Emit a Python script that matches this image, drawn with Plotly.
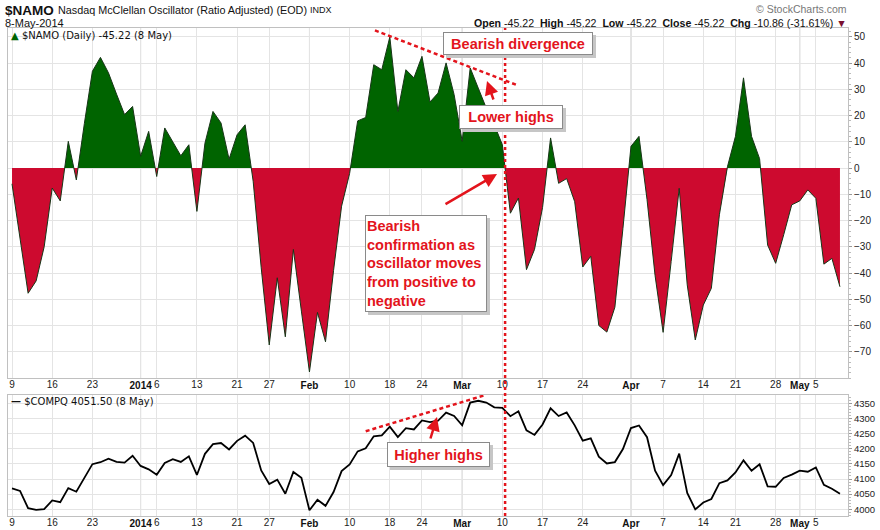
import plotly.graph_objects as go

# ---------------- data ----------------
trading_days = {
    "2013-12": [9, 10, 11, 12, 13, 16, 17, 18, 19, 20, 23, 24, 26, 27, 30, 31],
    "2014-01": [2, 3, 6, 7, 8, 9, 10, 13, 14, 15, 16, 17, 21, 22, 23, 24, 27, 28, 29, 30, 31],
    "2014-02": [3, 4, 5, 6, 7, 10, 11, 12, 13, 14, 18, 19, 20, 21, 24, 25, 26, 27, 28],
    "2014-03": [3, 4, 5, 6, 7, 10, 11, 12, 13, 14, 17, 18, 19, 20, 21, 24, 25, 26, 27, 28, 31],
    "2014-04": [1, 2, 3, 4, 7, 8, 9, 10, 11, 14, 15, 16, 17, 21, 22, 23, 24, 25, 28, 29, 30],
    "2014-05": [1, 2, 5, 6, 7, 8],
}
dates = [f"{m}-{d:02d}" for m, days in trading_days.items() for d in days]

namo = [
    -6, -26, -47.7, -43, -30, -7.6, -12.5, 10.2, -4.5, 17,
    36.9, 42.2, 36.3, 28.2, 20.4, 23.5, 4.5, 14, -3.2, 15.3,
    10.2, 4.7, 8.9, -16.5, 9.5, 21.6, 17.2, 3.4, 12.7, 16.5,
    -5, -38, -67.4, -41.8, -64.3, -31, -54.5, -77.7, -55, -66.2,
    -39, -14.5, -2, 18, 19.3, 39.4, 37.5, 50, 21.6, 37.5,
    34.4, 42.6, 25.2, 28.6, 40.1, 28, 10.2, 38.2, 30.5, 22.9,
    16.5, 8.9, -17.2, -11.4, -38.7, -31, -15, 11.5, -5.8, -4,
    -12.8, -37.7, -33.6, -60, -62.5, -53, -23, 8.3, 12.1, -12,
    -41, -62.6, -35.6, -7.7, -44.5, -65.5, -52.2, -45.8, -17.8, 0.5,
    12.1, 34.4, 12.1, 3.6, -29.3, -36.3, -25.4, -14, -12.5, -8.3,
    -11.5, -36.6, -34.4, -45.22,
]

compq = [
    4068.75, 4060.49, 4003.81, 3998.40, 4000.98, 4029.52, 4023.68, 4070.06, 4058.13, 4104.74,
    4148.90, 4155.42, 4167.18, 4156.59, 4154.20, 4176.59,
    4143.07, 4131.91, 4113.68, 4153.18, 4165.61, 4156.19, 4174.67, 4113.30, 4183.02, 4214.88,
    4218.69, 4197.58, 4225.76, 4243.00, 4218.88, 4128.17, 4083.61, 4097.96, 4051.43, 4123.13, 4103.88,
    3996.96, 4031.52, 4011.55, 4057.12, 4125.86, 4148.17, 4191.05, 4201.29, 4240.67, 4244.03,
    4272.78, 4237.95, 4267.55, 4263.41, 4292.97, 4287.59, 4292.06, 4318.93, 4308.12,
    4277.30, 4351.97, 4357.97, 4352.13, 4336.22, 4334.45, 4307.19, 4323.33, 4260.42, 4245.40,
    4279.95, 4333.31, 4307.60, 4319.29, 4276.79, 4226.39, 4234.27, 4173.58, 4151.23, 4155.76, 4198.99,
    4268.04, 4276.46, 4237.74, 4127.73, 4079.75, 4112.99, 4183.90, 4054.11, 3999.73, 4022.69,
    4034.16, 4086.23, 4095.52, 4121.55, 4161.46, 4126.97, 4148.34, 4075.56, 4074.40, 4103.54, 4114.56,
    4127.45, 4123.90, 4138.06, 4080.76, 4067.67, 4051.50,
]

week_dates = ["2013-12-09", "2013-12-16", "2013-12-23", "2014-01-06", "2014-01-13",
              "2014-01-21", "2014-01-27", "2014-02-10", "2014-02-18", "2014-02-24",
              "2014-03-10", "2014-03-17", "2014-03-24", "2014-04-07",
              "2014-04-14", "2014-04-21", "2014-04-28", "2014-05-05"]
week_labels = ["9", "16", "23", "6", "13", "21", "27", "10", "18", "24",
               "10", "17", "24", "7", "14", "21", "28", "5"]
month_dates = ["2014-01-02", "2014-02-03", "2014-03-03", "2014-04-01", "2014-05-01"]
month_labels = ["2014", "Feb", "Mar", "Apr", "May"]

namo_ticks = [50, 40, 30, 20, 10, 0, -10, -20, -30, -40, -50, -60, -70]
compq_ticks = [4000, 4050, 4100, 4150, 4200, 4250, 4300, 4350]

# ---------------- styling ----------------
GREEN = "#006400"
RED = "#cd0a2f"
ANN_RED = "#e3141c"
GRID = "#e4e4e4"
MONTH_GRID = "#c4c4c4"
BORDER = "#c0c0c0"
SANS = "Liberation Sans, Arial, sans-serif"
VERD = "DejaVu Sans, Verdana, sans-serif"

x = list(range(len(dates)))
week_pos = [dates.index(d) for d in week_dates]
month_pos = [dates.index(d) for d in month_dates]


def with_crossings(xv, yv):
    xa, ya = [xv[0]], [yv[0]]
    for i in range(1, len(yv)):
        y0, y1 = yv[i - 1], yv[i]
        if y0 * y1 < 0:
            t = y0 / (y0 - y1)
            xa.append(xv[i - 1] + t * (xv[i] - xv[i - 1]))
            ya.append(0.0)
        xa.append(xv[i])
        ya.append(yv[i])
    return xa, ya


xa, ya = with_crossings(x, namo)
pos = [max(v, 0) for v in ya]
neg = [min(v, 0) for v in ya]

fig = go.Figure()
fig.add_trace(go.Scatter(x=xa, y=pos, mode="lines", fill="tozeroy", fillcolor=GREEN,
                         line=dict(width=0, color=GREEN), hoverinfo="skip", xaxis="x", yaxis="y"))
fig.add_trace(go.Scatter(x=xa, y=neg, mode="lines", fill="tozeroy", fillcolor=RED,
                         line=dict(width=0, color=RED), hoverinfo="skip", xaxis="x", yaxis="y"))
fig.add_trace(go.Scatter(x=x, y=namo, mode="lines", line=dict(width=1, color="#173517"),
                         xaxis="x", yaxis="y"))
fig.add_trace(go.Scatter(x=x, y=compq, mode="lines", line=dict(width=1.8, color="#000000"),
                         xaxis="x2", yaxis="y2"))
# carrier traces for the bold month-label axes (draw nothing)
fig.add_trace(go.Scatter(x=[x[0]], y=[namo[0]], mode="lines", opacity=0, hoverinfo="skip",
                         xaxis="x3", yaxis="y"))
fig.add_trace(go.Scatter(x=[x[0]], y=[compq[0]], mode="lines", opacity=0, hoverinfo="skip",
                         xaxis="x4", yaxis="y2"))

# ---------------- axes ----------------
L, R, T, B = 8, 32, 28, 14
W, H = 880, 530
PW, PH = W - L - R, H - T - B
top_bottom_px = 378
bot_top_px = 395
XR = [-0.5, 104]

xweek = dict(range=XR, tickmode="array", tickvals=week_pos + month_pos,
             ticktext=week_labels + [""] * len(month_pos),
             showgrid=True, gridcolor=GRID, gridwidth=1, zeroline=False,
             showline=True, linecolor=BORDER, mirror=True, ticks="",
             ticklabelstandoff=-3,
             tickfont=dict(family=SANS, size=10, color="#222"))
xmonth = dict(range=XR, tickmode="array", tickvals=month_pos, ticktext=month_labels,
              showgrid=False, zeroline=False, showline=False, ticks="",
              ticklabelstandoff=0, side="bottom",
              tickfont=dict(family=SANS, size=10, color="#111", weight="bold"))

fig.update_layout(
    width=W, height=H,
    margin=dict(l=L, r=R, t=T, b=B, autoexpand=False),
    paper_bgcolor="white", plot_bgcolor="white",
    showlegend=False,
    xaxis=dict(domain=[0, 1], anchor="y", **xweek),
    xaxis2=dict(domain=[0, 1], anchor="y2", **xweek),
    xaxis3=dict(overlaying="x", anchor="y", **xmonth),
    xaxis4=dict(overlaying="x2", anchor="y2", **xmonth),
    yaxis=dict(domain=[(H - B - top_bottom_px) / PH, 1], anchor="x", side="right",
               range=[-80, 53.4], tickmode="array", tickvals=namo_ticks,
               showgrid=True, gridcolor=GRID, zeroline=False,
               showline=True, linecolor=BORDER, mirror=True,
               ticks="outside", ticklen=3, tickcolor="#999",
               minor=dict(dtick=2, ticks="outside", ticklen=2, tickcolor="#bbb", showgrid=False),
               tickfont=dict(family=SANS, size=10, color="#222")),
    yaxis2=dict(domain=[0, (H - B - bot_top_px) / PH], anchor="x2", side="right",
                range=[3978, 4377], tickmode="array", tickvals=compq_ticks,
                showgrid=True, gridcolor=GRID, zeroline=False,
                showline=True, linecolor=BORDER, mirror=True,
                ticks="outside", ticklen=3, tickcolor="#999",
                minor=dict(dtick=10, ticks="outside", ticklen=2, tickcolor="#bbb", showgrid=False),
                tickfont=dict(family=SANS, size=9.5, color="#222")),
)

# ---------------- shapes ----------------
shapes = []
for m in month_pos:
    shapes.append(dict(type="line", xref="x", yref="y domain", x0=m, x1=m, y0=0, y1=1,
                       line=dict(color=MONTH_GRID, width=1), layer="below"))
    shapes.append(dict(type="line", xref="x2", yref="y2 domain", x0=m, x1=m, y0=0, y1=1,
                       line=dict(color=MONTH_GRID, width=1), layer="below"))

# vertical dotted line at the positive->negative crossing after 10 Mar
i10 = dates.index("2014-03-10")
xc = i10 + namo[i10] / (namo[i10] - namo[i10 + 1])
shapes.append(dict(type="line", xref="x", yref="paper", x0=xc, x1=xc, y0=0, y1=1,
                   line=dict(color=ANN_RED, width=2.5, dash="dot")))

# divergence trend line across NAMO highs
ia, ib = dates.index("2014-02-18"), dates.index("2014-03-04")
slope = (namo[ib] - namo[ia]) / (ib - ia)
xa0, xa1 = ia - 1.85, ib + 5.97
shapes.append(dict(type="line", xref="x", yref="y", x0=xa0, x1=xa1,
                   y0=namo[ia] + slope * (xa0 - ia) + 0.3, y1=namo[ia] + slope * (xa1 - ia) + 0.3,
                   line=dict(color=ANN_RED, width=2.5, dash="4px,3px")))

# higher-highs trend line across COMPQ highs
ja, jb = dates.index("2014-02-18"), dates.index("2014-03-05")
slope2 = (compq[jb] - compq[ja]) / (jb - ja)
xb0, xb1 = ja - 3, jb + 0.8
shapes.append(dict(type="line", xref="x2", yref="y2", x0=xb0, x1=xb1,
                   y0=compq[ja] + slope2 * (xb0 - ja) + 8, y1=compq[ja] + slope2 * (xb1 - ja) + 12,
                   line=dict(color=ANN_RED, width=2.5, dash="4px,3px")))
fig.update_layout(shapes=shapes)


# ---------------- annotations ----------------
def P(px, py):
    return (px - L) / PW, (H - B - py) / PH


anns = []


def text_ann(px, py, text, size, family=SANS, color="#111", xanchor="left"):
    ax_, ay_ = P(px, py)
    anns.append(dict(xref="paper", yref="paper", x=ax_, y=ay_, text=text, showarrow=False,
                     xanchor=xanchor, yanchor="middle", font=dict(family=family, size=size, color=color)))


text_ann(3, 10, "<b>$NAMO</b>", 13.5)
text_ann(56, 10, "Nasdaq McClellan Oscillator (Ratio Adjusted) (EOD)", 10.8)
text_ann(308, 10, "INDX", 9)
text_ann(3, 22.5, "8-May-2014", 11)
text_ann(849, 9, "© StockCharts.com", 10.5, color="#777", xanchor="right")
sp = "\u00a0"
text_ann(849, 22.5,
         f"<b>Open</b>{sp}-45.22{sp}{sp}<b>High</b>{sp}-45.22{sp}{sp}<b>Low</b>{sp}-45.22{sp}{sp}"
         f"<b>Close</b>{sp}-45.22{sp}{sp}<b>Chg</b>{sp}-10.86{sp}(-31.61%){sp}"
         f"<span style='color:#7a1030'>▼</span>", 10.6, xanchor="right")
text_ann(9, 35.5, f"<span style='color:{GREEN}'>▲</span> $NAMO (Daily) -45.22 (8 May)", 10, family=VERD)
text_ann(9, 401, "<b>—</b> $COMPQ 4051.50 (8 May)", 10, family=VERD)


def box(cx, cy, w, h, text, align="center"):
    bx, by = P(cx, cy)
    common = dict(xref="paper", yref="paper", x=bx, y=by, text=text, showarrow=False,
                  xanchor="center", yanchor="middle", width=w - 4, height=h - 4,
                  align=align, borderpad=1, borderwidth=1)
    anns.append(dict(common, font=dict(family=SANS, size=14.5, color="#c6c6c6"),
                     bgcolor="#c6c6c6", bordercolor="#c6c6c6", xshift=3, yshift=-3))
    anns.append(dict(common, font=dict(family=SANS, size=14.5, color=ANN_RED),
                     bgcolor="white", bordercolor="#8a8a8a"))


def arrow(hx, hy, tx, ty):
    ax_, ay_ = P(hx, hy)
    anns.append(dict(xref="paper", yref="paper", x=ax_, y=ay_, text="", showarrow=True,
                     ax=tx - hx, ay=ty - hy, arrowhead=2, arrowsize=1.1, arrowwidth=2.5,
                     arrowcolor=ANN_RED, standoff=0))


box(518, 43.5, 150, 23, "<b>Bearish divergence</b>")
box(511, 117, 104, 24, "<b>Lower highs</b>")
box(426, 263.5, 122, 97,
    "<b>Bearish<br>confirmation as<br>oscillator moves<br>from positive to<br>negative</b>", align="left")
box(438.5, 454.5, 103, 25, "<b>Higher highs</b>")

arrow(487, 81, 494, 101)
arrow(497, 174, 444, 205)
arrow(437, 417, 430, 440)

fig.update_layout(annotations=anns)
fig.write_html("out.html", config={"displayModeBar": False},
               post_script="document.body.style.margin='0px';document.body.style.padding='0px';"
                           "document.body.style.overflow='hidden';")
